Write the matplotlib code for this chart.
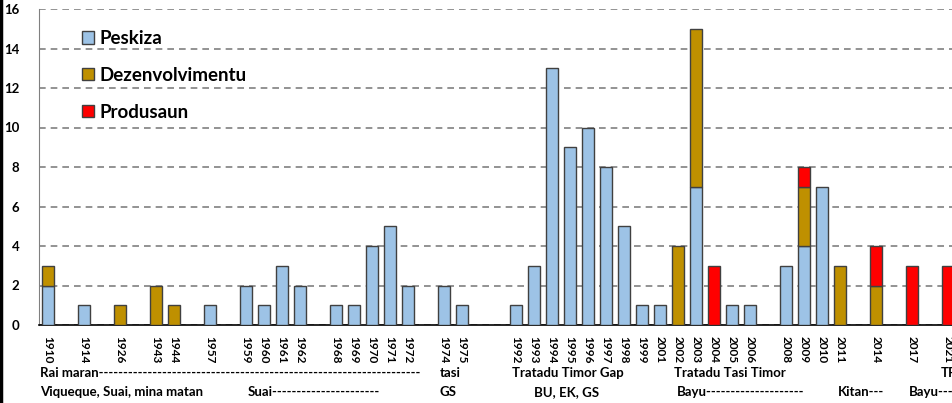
import matplotlib
matplotlib.use("Agg")
import matplotlib.pyplot as plt
import numpy as np
from matplotlib.lines import Line2D

plt.rcParams['font.family'] = ['Lato', 'DejaVu Sans']

# category axis, '' = empty slot
years = ['1910', '', '1914', '', '1926', '', '1943', '1944', '', '1957', '',
         '1959', '1960', '1961', '1962', '', '1968', '1969', '1970', '1971',
         '1972', '', '1974', '1975', '', '', '1992', '1993', '1994', '1995',
         '1996', '1997', '1998', '1999', '2001', '2002', '2003', '2004',
         '2005', '2006', '', '2008', '2009', '2010', '2011', '', '2014', '',
         '2017', '', '2021']

peskiza = [2, 0, 1, 0, 0, 0, 0, 0, 0, 1, 0,
           2, 1, 3, 2, 0, 1, 1, 4, 5,
           2, 0, 2, 1, 0, 0, 1, 3, 13, 9,
           10, 8, 5, 1, 1, 0, 7, 0,
           1, 1, 0, 3, 4, 7, 0, 0, 0, 0,
           0, 0, 0]
dezenvolvimentu = [1, 0, 0, 0, 1, 0, 2, 1, 0, 0, 0,
                   0, 0, 0, 0, 0, 0, 0, 0, 0,
                   0, 0, 0, 0, 0, 0, 0, 0, 0, 0,
                   0, 0, 0, 0, 0, 4, 8, 0,
                   0, 0, 0, 0, 3, 0, 3, 0, 2, 0,
                   0, 0, 0]
produsaun = [0, 0, 0, 0, 0, 0, 0, 0, 0, 0, 0,
             0, 0, 0, 0, 0, 0, 0, 0, 0,
             0, 0, 0, 0, 0, 0, 0, 0, 0, 0,
             0, 0, 0, 0, 0, 0, 0, 3,
             0, 0, 0, 0, 1, 0, 0, 0, 2, 0,
             3, 0, 3]

labels_row1 = [("Rai maran" + "-" * 66, 40), ("tasi", 440),
               ("Tratadu Timor Gap", 512), ("Tratadu Tasi Timor", 674),
               ("TFM", 941)]
labels_row2 = [("Viqueque, Suai, mina matan", 40), ("Suai" + "-" * 22, 248),
               ("GS", 440), ("BU, EK, GS", 534), ("Bayu" + "-" * 20, 677),
               ("Kitan---", 838), ("Bayu---", 909)]

W, H = 952, 403
fig = plt.figure(figsize=(W / 100, H / 100), dpi=100)
ax = fig.add_axes([39 / W, 78 / H, (W - 39) / W, 316 / H])

x = np.arange(len(years))
p = np.array(peskiza)
d = np.array(dezenvolvimentu)
r = np.array(produsaun)
kw = dict(width=0.62, edgecolor='#404040', linewidth=1.0, zorder=3)
ax.bar(x, np.where(p > 0, p, np.nan), color='#9DC3E6', label='Peskiza', **kw)
ax.bar(x, np.where(d > 0, d, np.nan), bottom=p, color='#BF9000',
       label='Dezenvolvimentu', **kw)
ax.bar(x, np.where(r > 0, r, np.nan), bottom=p + d, color='#FF0000',
       label='Produsaun', **kw)

ax.set_xlim(-0.5, (W - 39) / 18 - 0.5)
ax.set_ylim(0, 16)
ax.set_yticks(range(0, 17, 2))
ax.set_yticklabels([str(v) for v in range(0, 17, 2)], fontsize=9.5,
                   fontweight='bold')
ax.set_xticks(x)
ax.set_xticklabels(years, rotation=270, fontsize=8.5, fontweight='bold',
                   va='top', ha='center')
ax.tick_params(axis='y', length=0, pad=14)
ax.tick_params(axis='x', length=0, pad=8)
ax.grid(axis='y', color='#808080', linestyle=(0, (4, 3)), linewidth=1.2,
        zorder=0)
for s in ['top', 'right']:
    ax.spines[s].set_visible(False)
ax.spines['left'].set_color('#808080')
ax.spines['bottom'].set_color('black')
ax.spines['bottom'].set_linewidth(1.2)

leg = ax.legend(loc='upper left', bbox_to_anchor=((82 - 39) / 913, 0.933),
                frameon=False, borderpad=0, borderaxespad=0,
                prop=dict(size=13.5, weight='bold'), handlelength=0.62,
                handleheight=0.62, handletextpad=0.3, labelspacing=1.05)

for txt, px in labels_row1:
    fig.text(px / W, 1 - 373 / H, txt, fontsize=9.5, fontweight='bold',
             va='center', ha='left')
for txt, px in labels_row2:
    fig.text(px / W, 1 - 392 / H, txt, fontsize=9.5, fontweight='bold',
             va='center', ha='left')

fig.add_artist(Line2D([0.001, 0.001], [0, 1], color='black', lw=2.5,
                      transform=fig.transFigure))

fig.savefig('out.png', dpi=100)
